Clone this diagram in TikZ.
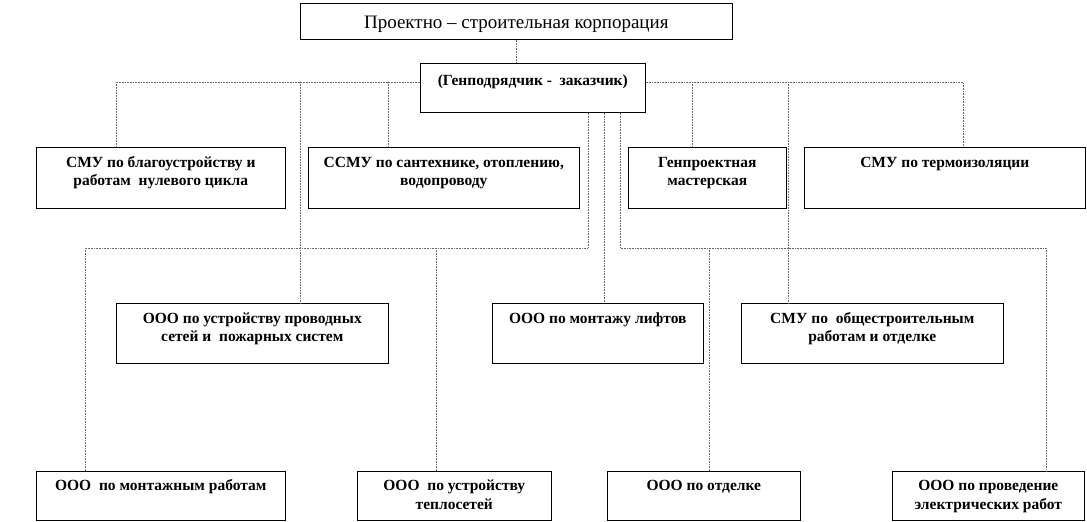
\documentclass[tikz,border=0pt]{standalone}
\usepackage{fontspec}
\setmainfont{Liberation Serif}

\begin{document}
\begin{tikzpicture}[
x=1pt, y=-1pt,
box/.style={rectangle, draw=black, line width=0.6pt, inner sep=0pt, anchor=north west, align=center, font=\bfseries\fontsize{15.5}{18.5}\selectfont},
rowa/.style={box, text height=20pt, text depth=41pt},
rowatwo/.style={box, text height=38.5pt, text depth=22.5pt},
rowb/.style={box, text height=20pt, text depth=40pt},
rowbtwo/.style={box, text height=38.5pt, text depth=21.5pt},
rowc/.style={box, text height=19.5pt, text depth=29.5pt},
rowctwo/.style={box, text height=38pt, text depth=11pt},
line/.style={draw=black!60, densely dotted, line width=0.6pt}
]
\useasboundingbox (0,0) rectangle (1087,522);

% head
\node[box, font=\fontsize{19}{22}\selectfont, text height=25pt, text depth=11pt, minimum width=432pt] (corp) at (300,3) {Проектно – строительная корпорация};
\node[box, text height=22pt, text depth=27pt, minimum width=225pt] (gen) at (420,63) {(Генподрядчик -\ \ заказчик)};

% first row
\node[rowatwo, minimum width=249pt] (smu1) at (36,147) {СМУ по благоустройству и\\работам\ \ нулевого цикла};
\node[rowatwo, minimum width=271pt] (ssmu) at (308,147) {ССМУ по сантехнике, отоплению,\\водопроводу};
\node[rowatwo, minimum width=158pt] (proj) at (628,147) {Генпроектная\\мастерская};
\node[rowa, minimum width=281pt] (term) at (804,147) {СМУ по термоизоляции};

% second row
\node[rowbtwo, minimum width=272pt] (fire) at (116,303) {ООО по устройству проводных\\сетей и\ \ пожарных систем};
\node[rowb, minimum width=211pt] (lift) at (492,303) {ООО по монтажу лифтов};
\node[rowbtwo, minimum width=262pt] (gen2) at (741,303) {СМУ по\ \ общестроительным\\работам и отделке};

% third row
\node[rowc, minimum width=249pt] (mont) at (36,471) {ООО\ \ по монтажным работам};
\node[rowctwo, minimum width=194pt] (heat) at (357,471) {ООО\ \ по устройству\\теплосетей};
\node[rowc, minimum width=193pt] (fin) at (607,471) {ООО по отделке};
\node[rowctwo, minimum width=192pt] (elec) at (892,471) {ООО по проведение\\электрических работ};

% bus points
\coordinate (t1) at (116,82);
\coordinate (t2) at (300,82);
\coordinate (t3) at (388,82);
\coordinate (t4) at (692,82);
\coordinate (t5) at (788,82);
\coordinate (t6) at (963,82);
\coordinate (g1) at (588,248);
\coordinate (g2) at (604,248);
\coordinate (g3) at (620,248);
\coordinate (l1) at (85,248);
\coordinate (l2) at (436,248);
\coordinate (r1) at (709,248);
\coordinate (r2) at (1046,248);

\draw[line] (corp.south) -- (corp.south |- gen.north);
\draw[line] (gen.west |- t1) -- (t1) -- (t1 |- smu1.north);
\draw[line] (t2) -- (t2 |- fire.north);
\draw[line] (t3) -- (t3 |- ssmu.north);
\draw[line] (gen.east |- t6) -- (t6) -- (t6 |- term.north);
\draw[line] (t4) -- (t4 |- proj.north);
\draw[line] (t5) -- (t5 |- gen2.north);
\draw[line] (g1 |- gen.south) -- (g1) -- (l1) -- (l1 |- mont.north);
\draw[line] (l2) -- (l2 |- heat.north);
\draw[line] (g2 |- gen.south) -- (g2 |- lift.north);
\draw[line] (g3 |- gen.south) -- (g3) -- (r2) -- (r2 |- elec.north);
\draw[line] (r1) -- (r1 |- fin.north);
\end{tikzpicture}
\end{document}
